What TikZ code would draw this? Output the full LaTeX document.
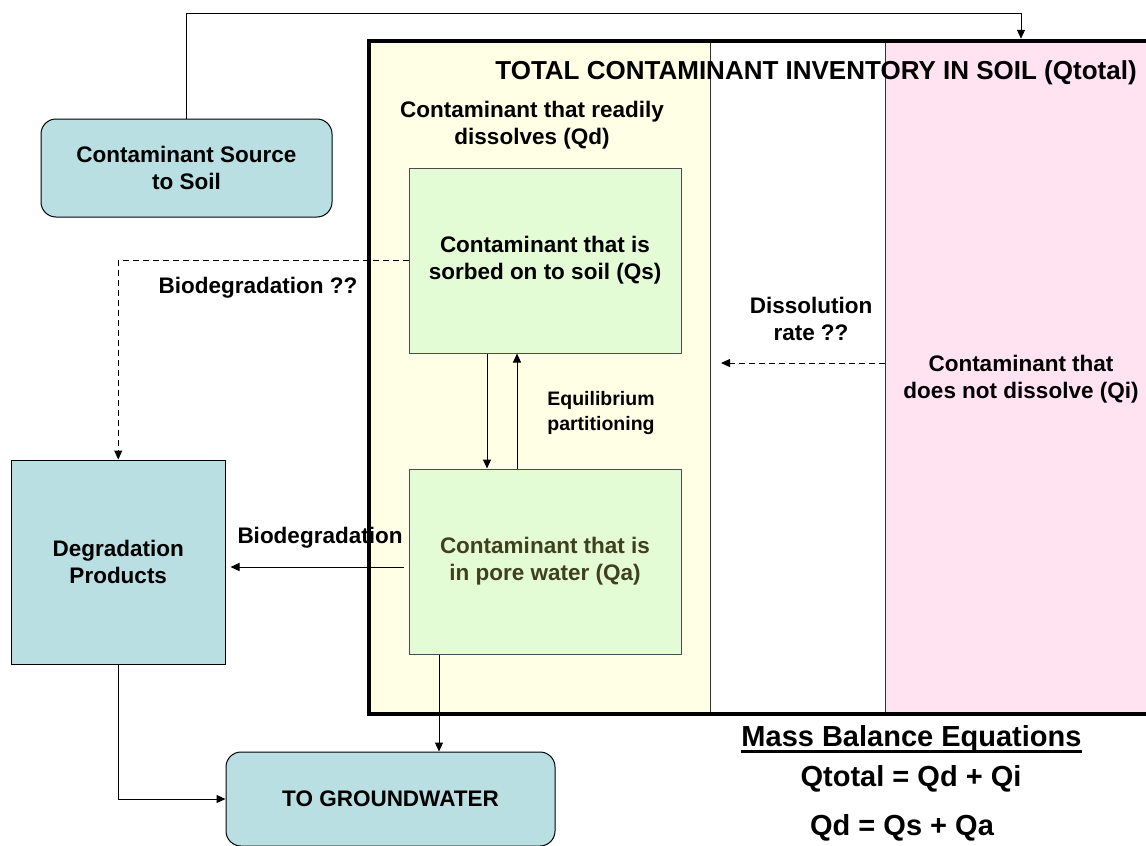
\documentclass[tikz,border=0pt]{standalone}
\usepackage{fontspec}
\setmainfont{Liberation Sans}
\usetikzlibrary{positioning,arrows.meta}
\definecolor{srcblue}{HTML}{B9DFE2}
\definecolor{soilyellow}{HTML}{FFFFE5}
\definecolor{sorbgreen}{HTML}{E3FCD6}
\definecolor{solidpink}{HTML}{FFE3F1}
\definecolor{porecolor}{HTML}{404020}
\tikzset{
	>={Triangle[length=9pt,width=8pt]}
}

\begin{document}
\begin{tikzpicture}[
x = 1pt, y = -1pt,
line width = 1pt,
every node/.style = {
	font = \bfseries\fontsize{22.5}{27}\selectfont,
	align = center,
	text = black,
},
roundbox/.style = {draw, rounded corners = 15pt, fill = srcblue},
flatbox/.style = {draw, fill = srcblue},
qbox/.style = {draw = black!70, fill = sorbgreen, minimum width = 272pt, minimum height = 185pt},
small/.style = {font = \bfseries\fontsize{19.5}{25}\selectfont, align = left},
eqn/.style = {font = \bfseries\fontsize{29}{34}\selectfont},
uncertain/.style = {dash pattern = on 6pt off 4pt},
]
\useasboundingbox (0,0) rectangle (1146,846);
\clip (0,0) rectangle (1146,846);

% columns of the soil inventory
\fill[soilyellow] (369,41) rectangle (710,714);
\fill[solidpink] (885,41) rectangle (1160,714);
\draw[black!80] (710,41) -- (710,714) (885,41) -- (885,714);
\node[draw, line width = 4.5pt, minimum width = 790pt, minimum height = 673pt] (inv) at (764,377.5) {};

\node[font = \bfseries\fontsize{26}{30}\selectfont] (title) at (816,73) {TOTAL CONTAMINANT INVENTORY IN SOIL (Qtotal)};
\node (qd) at (532,125) {Contaminant that readily\\dissolves (Qd)};

\node[roundbox, minimum width = 291pt, minimum height = 98pt] (src) at (186.5,168) {Contaminant Source\\to Soil};
\node[qbox] (qs) at (545,260.5) {Contaminant that is\\sorbed on to soil (Qs)};
\node[qbox, text = porecolor] (qa) at (545,561.5) {Contaminant that is\\in pore water (Qa)};
\node[flatbox, minimum width = 213.5pt, minimum height = 204pt] (deg) at (118.25,562) {Degradation\\Products};
\node[roundbox, minimum width = 329pt, minimum height = 94pt] (gw) at (390.5,799) {TO GROUNDWATER};
\node (qi) at (1021,379) {Contaminant that\\does not dissolve (Qi)};

\node[small] (equil) at (601,413) {Equilibrium\\partitioning};
\node (dissol) at (811,319) {Dissolution\\rate ??};
\node (biolab) at (258,288) {Biodegradation ??};
\node (bio) at (320,538) {Biodegradation};

\node[eqn, inner xsep = 0pt] (mbe) at (911.5,739) {Mass Balance Equations};
\draw[line width = 2.5pt] ([yshift=-5pt]mbe.base west) -- ([yshift=-5pt]mbe.base east);
\node[eqn] (eq1) at (911,779) {Qtotal = Qd + Qi};
\node[eqn] (eq2) at (902,828) {Qd = Qs + Qa};

% connectors
\coordinate (topturn) at (1021,13);
\draw[->] (src.north) |- (topturn) -- (topturn |- inv.north);
\draw[->] ([xshift=-58]qs.south) -- ([xshift=-58]qs.south |- qa.north);
\draw[->] ([xshift=-28]qa.north) -- ([xshift=-28]qa.north |- qs.south);
\draw[->, uncertain] (qs.west) -| (deg.north);
\draw[->, shorten > = 5pt] ([xshift=-5]qa.west |- 0,567) -- (deg.east |- 0,567);
\draw[->] ([xshift=-106]qa.south) -- ([xshift=-106]qa.south |- gw.north);
\draw[->] (deg.south) |- (gw.west);
\coordinate (pinkedge) at (885,363);
\coordinate (yellowedge) at (721,363);
\draw[->, uncertain] (pinkedge) -- (yellowedge);

\end{tikzpicture}
\end{document}
